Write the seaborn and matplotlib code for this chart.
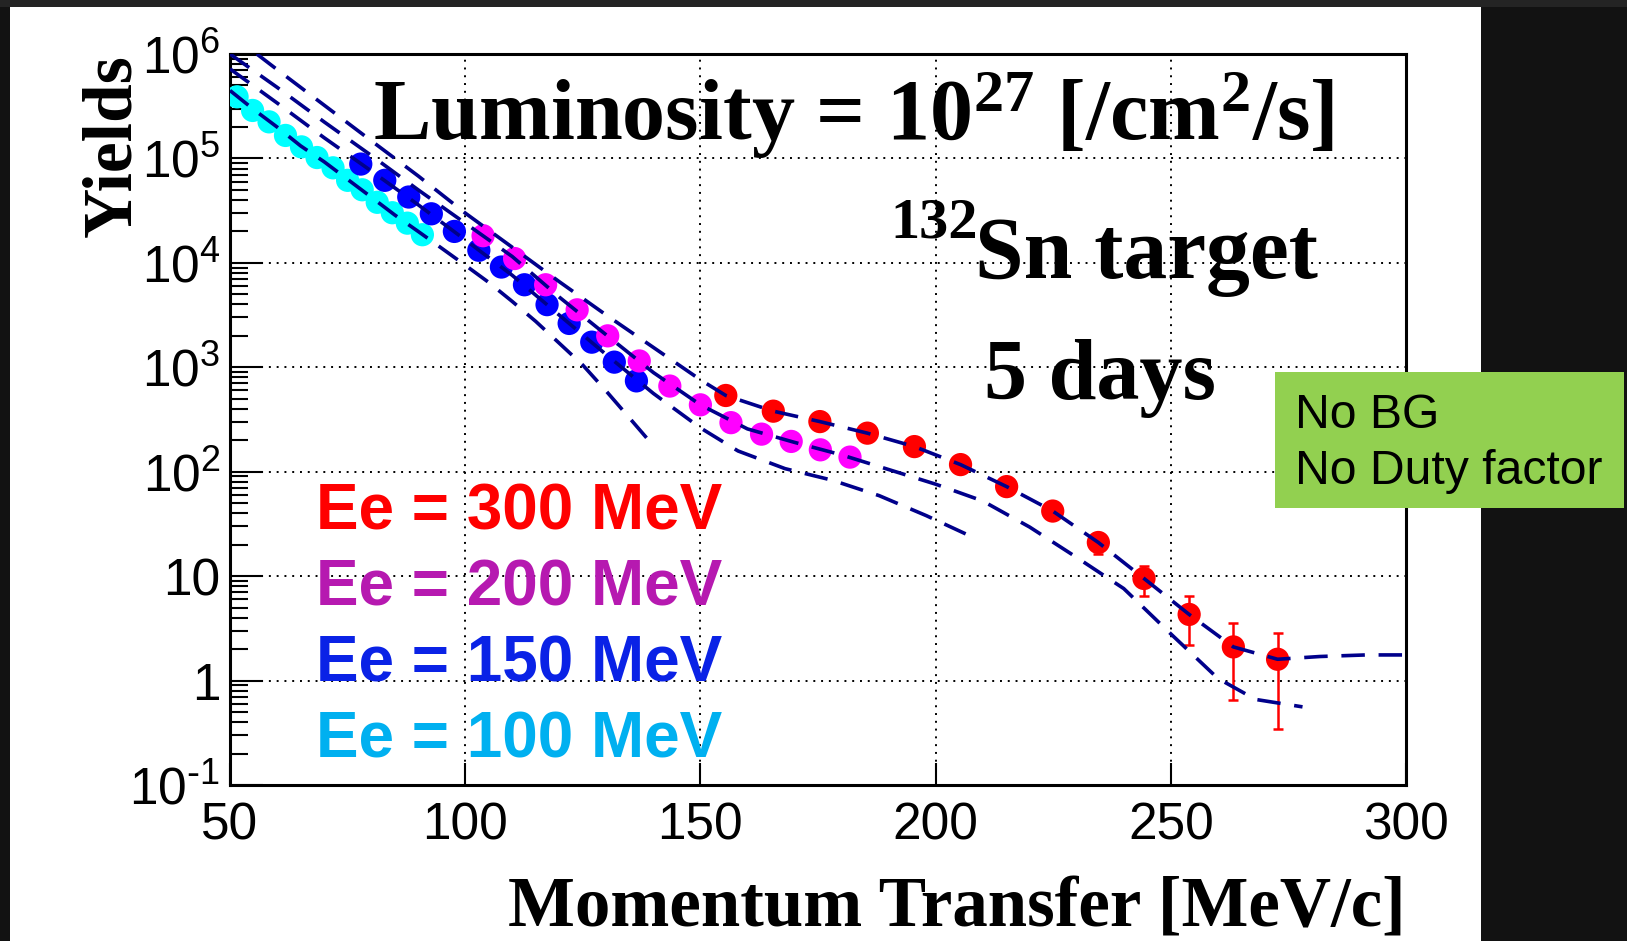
import numpy as np
import pandas as pd
import matplotlib
matplotlib.use("Agg")
import matplotlib.pyplot as plt
import seaborn as sns
from matplotlib.patches import Rectangle
from matplotlib.ticker import LogLocator, NullFormatter, NullLocator

# ---- simulated yields per beam energy: momentum transfer [MeV/c] and counts ----
q_100 = [51.5, 54.8, 58.3, 61.8, 65.2, 68.5, 71.9, 75.0, 78.1, 81.3, 84.5, 87.7, 90.9]
yield_100 = [389000, 288000, 224000, 166000, 129000, 102000, 81300, 61700,
             50100, 38000, 30200, 24000, 18600]

q_150 = [77.8, 82.9, 88.0, 92.8, 97.7, 102.9, 107.7, 112.6, 117.4, 122.1, 126.9, 131.7, 136.4]
yield_150 = [88300, 61700, 42700, 29500, 20000, 13200, 9120, 6170, 3980, 2630, 1740, 1120, 741]

q_200 = [103.8, 110.5, 117.1, 123.8, 130.3, 137.0, 143.5, 150.0, 156.5, 163.0, 169.3, 175.5, 181.8]
yield_200 = [18200, 11000, 6170, 3550, 2000, 1150, 661, 437, 295, 229, 195, 162, 138]

q_300 = [155.4, 165.5, 175.4, 185.5, 195.5, 205.3, 215.1, 224.9, 234.6, 244.3, 253.9, 263.3, 272.7]
yield_300 = [537, 380, 302, 234, 174, 117, 72, 42, 21, 9.5, 4.3, 2.1, 1.6]
err_300 = [23, 19.5, 17.4, 15.3, 13.2, 10.8, 8.5, 6.5, 4.6, 3.1, 2.1, 1.45, 1.26]

# ---- calculated yield curves (dashed) ----
curve_q_100 = [50, 55, 60, 65, 70, 75, 80, 85, 90, 95, 100, 105, 110, 115, 120, 125, 130, 135, 139]
curve_y_100 = [4.47e5, 2.95e5, 2.0e5, 1.32e5, 9.3e4, 6.3e4, 4.27e4, 2.88e4, 2.0e4, 1.38e4,
               9.5e3, 6.5e3, 4.27e3, 2.75e3, 1.70e3, 1.05e3, 590, 324, 200]

curve_q_150 = [50, 60, 70, 80, 90, 100, 110, 120, 130, 140, 150, 158, 168, 178, 188, 198, 209]
curve_y_150 = [7.2e5, 3.4e5, 1.58e5, 7.6e4, 3.6e4, 1.66e4, 7.6e3, 3.16e3, 1.32e3, 562,
               263, 158, 107, 83, 59, 38, 22.4]

curve_q_200 = [50, 60, 70, 80, 90, 100, 110, 120, 130, 140, 150, 160, 170, 180, 190, 200,
               210, 220, 230, 240, 250, 260, 268, 278]
curve_y_200 = [1.0e6, 4.8e5, 2.24e5, 1.07e5, 5.0e4, 2.4e4, 1.15e4, 4.7e3, 2.04e3, 891, 437,
               257, 191, 145, 105, 76, 52.5, 29.5, 15.1, 7.6, 2.8, 1.05, 0.66, 0.56]

curve_q_300 = [55.7, 60, 70, 80, 90, 100, 110, 120, 130, 140, 150, 155.4, 165.5, 175.4, 185.5,
               195.5, 205.3, 215.1, 224.9, 234.6, 244.3, 253.9, 263.3, 272.7, 281.7, 291.5, 300]
curve_y_300 = [1.0e6, 7.1e5, 3.24e5, 1.48e5, 6.8e4, 3.0e4, 1.41e4, 6.6e3, 3.16e3, 1.55e3, 759,
               537, 380, 302, 234, 174, 117, 72, 42, 21, 9.5, 4.3, 2.1, 1.6, 1.7, 1.76, 1.76]

energies = ["300", "200", "150", "100"]
point_colors = {"100": "#00FFFF", "150": "#0000FF", "200": "#FF00FF", "300": "#FF0000"}
label_colors = {"300": "#FF0000", "200": "#B619B0", "150": "#0A22E6", "100": "#00B0F0"}
curve_color = "#00008B"

x_ticks = [50, 100, 150, 200, 250, 300]
x_tick_labels = ["50", "100", "150", "200", "250", "300"]
y_ticks = [1e-1, 1, 10, 1e2, 1e3, 1e4, 1e5, 1e6]
y_tick_labels = [r"$10^{\text{-}1}$", "1", "10", r"$10^{2}$", r"$10^{3}$", r"$10^{4}$",
                 r"$10^{5}$", r"$10^{6}$"]

points = pd.concat([
    pd.DataFrame({"q": q_100, "y": yield_100, "Ee": "100"}),
    pd.DataFrame({"q": q_150, "y": yield_150, "Ee": "150"}),
    pd.DataFrame({"q": q_200, "y": yield_200, "Ee": "200"}),
    pd.DataFrame({"q": q_300, "y": yield_300, "Ee": "300"}),
], ignore_index=True)

curves = pd.concat([
    pd.DataFrame({"q": curve_q_100, "y": curve_y_100, "Ee": "100"}),
    pd.DataFrame({"q": curve_q_150, "y": curve_y_150, "Ee": "150"}),
    pd.DataFrame({"q": curve_q_200, "y": curve_y_200, "Ee": "200"}),
    pd.DataFrame({"q": curve_q_300, "y": curve_y_300, "Ee": "300"}),
], ignore_index=True)

sns.set_style("ticks")
plt.rcParams.update({
    "font.family": ["Liberation Sans", "DejaVu Sans"],
    "mathtext.default": "regular",
    "axes.linewidth": 2.2,
    "axes.edgecolor": "black",
})

W, H = 1627, 941


def fx(px):
    return px / W


def fy(py):
    return 1 - py / H


fig = plt.figure(figsize=(W / 100, H / 100), dpi=100, facecolor="#121212")
fig.patches.append(Rectangle((0, fy(7)), 1, 7 / H, transform=fig.transFigure,
                             facecolor="#242424", edgecolor="none", zorder=-2))
fig.patches.append(Rectangle((fx(10), 0), (1481 - 10) / W, (H - 7) / H,
                             transform=fig.transFigure, facecolor="white",
                             edgecolor="none", zorder=-1))

ax = fig.add_axes([fx(230), fy(785), (1406 - 230) / W, (785 - 54) / H])
ax.set_facecolor("white")
ax.set_yscale("log")

ax.errorbar(q_300, yield_300, yerr=err_300, fmt="none", ecolor="#FF0000",
            elinewidth=1.8, capsize=3.5, capthick=1.8, zorder=2.5)
sns.scatterplot(data=points, x="q", y="y", hue="Ee", palette=point_colors, s=280,
                linewidth=0, legend=False, ax=ax, zorder=3)
sns.lineplot(data=curves, x="q", y="y", units="Ee", estimator=None, sort=False,
             color=curve_color, linewidth=2.6, linestyle=(0, (6.5, 3.8)),
             legend=False, ax=ax, zorder=4)

ax.set_xlim(50, 300)
ax.set_ylim(0.1, 1e6)
ax.set_xlabel("")
ax.set_ylabel("")

ax.set_xticks(x_ticks)
ax.set_xticklabels(x_tick_labels)
ax.xaxis.set_minor_locator(NullLocator())
ax.set_yticks(y_ticks)
ax.set_yticklabels(y_tick_labels)
ax.yaxis.set_minor_locator(LogLocator(base=10, subs=np.arange(2, 10), numticks=30))
ax.yaxis.set_minor_formatter(NullFormatter())
ax.tick_params(which="both", direction="in", width=1.5, color="black",
               labelsize=37, labelcolor="black", top=False, right=False)
ax.tick_params(axis="x", which="major", length=16, pad=12)
ax.tick_params(axis="y", which="major", length=24, pad=7)
ax.tick_params(axis="y", which="minor", length=13)
ax.grid(True, which="major", axis="both", color="black",
        linestyle=(0, (1, 3)), linewidth=1.4)
ax.set_axisbelow(True)
for sp in ax.spines.values():
    sp.set_visible(True)
    sp.set_linewidth(2.2)
    sp.set_color("black")

serif = dict(family="Liberation Serif", weight="bold", color="black")

fig.text(fx(373), fy(140), r"Luminosity = $10^{27}$ [/cm$^{2}$/s]", fontsize=62,
         ha="left", va="baseline", **serif)
fig.text(fx(890), fy(238), "132", fontsize=42, ha="left", va="baseline", **serif)
fig.text(fx(975), fy(278), "Sn target", fontsize=63, ha="left", va="baseline", **serif)
fig.text(fx(984), fy(399), "5 days", fontsize=62, ha="left", va="baseline", **serif)

fig.text(fx(1406), fy(926), "Momentum Transfer [MeV/c]", fontsize=51,
         ha="right", va="baseline", **serif)
fig.text(fx(130), fy(54), "Yields", fontsize=50, rotation=90, rotation_mode="anchor",
         ha="right", va="baseline", **serif)

baselines = {"300": 529, "200": 605, "150": 682, "100": 758}
for e in energies:
    fig.text(fx(316), fy(baselines[e]), f"Ee = {e} MeV", fontsize=46,
             family="Liberation Sans", weight="bold", color=label_colors[e],
             ha="left", va="baseline")

fig.patches.append(Rectangle((fx(1275), fy(508)), (1624 - 1275) / W, (508 - 372) / H,
                             transform=fig.transFigure, facecolor="#92D050",
                             edgecolor="none", zorder=5))
fig.text(fx(1295), fy(428), "No BG", fontsize=34.7, family="Liberation Sans",
         color="black", ha="left", va="baseline", zorder=6)
fig.text(fx(1295), fy(484), "No Duty factor", fontsize=34.7, family="Liberation Sans",
         color="black", ha="left", va="baseline", zorder=6)

fig.savefig("out.png", dpi=100, facecolor=fig.get_facecolor())
